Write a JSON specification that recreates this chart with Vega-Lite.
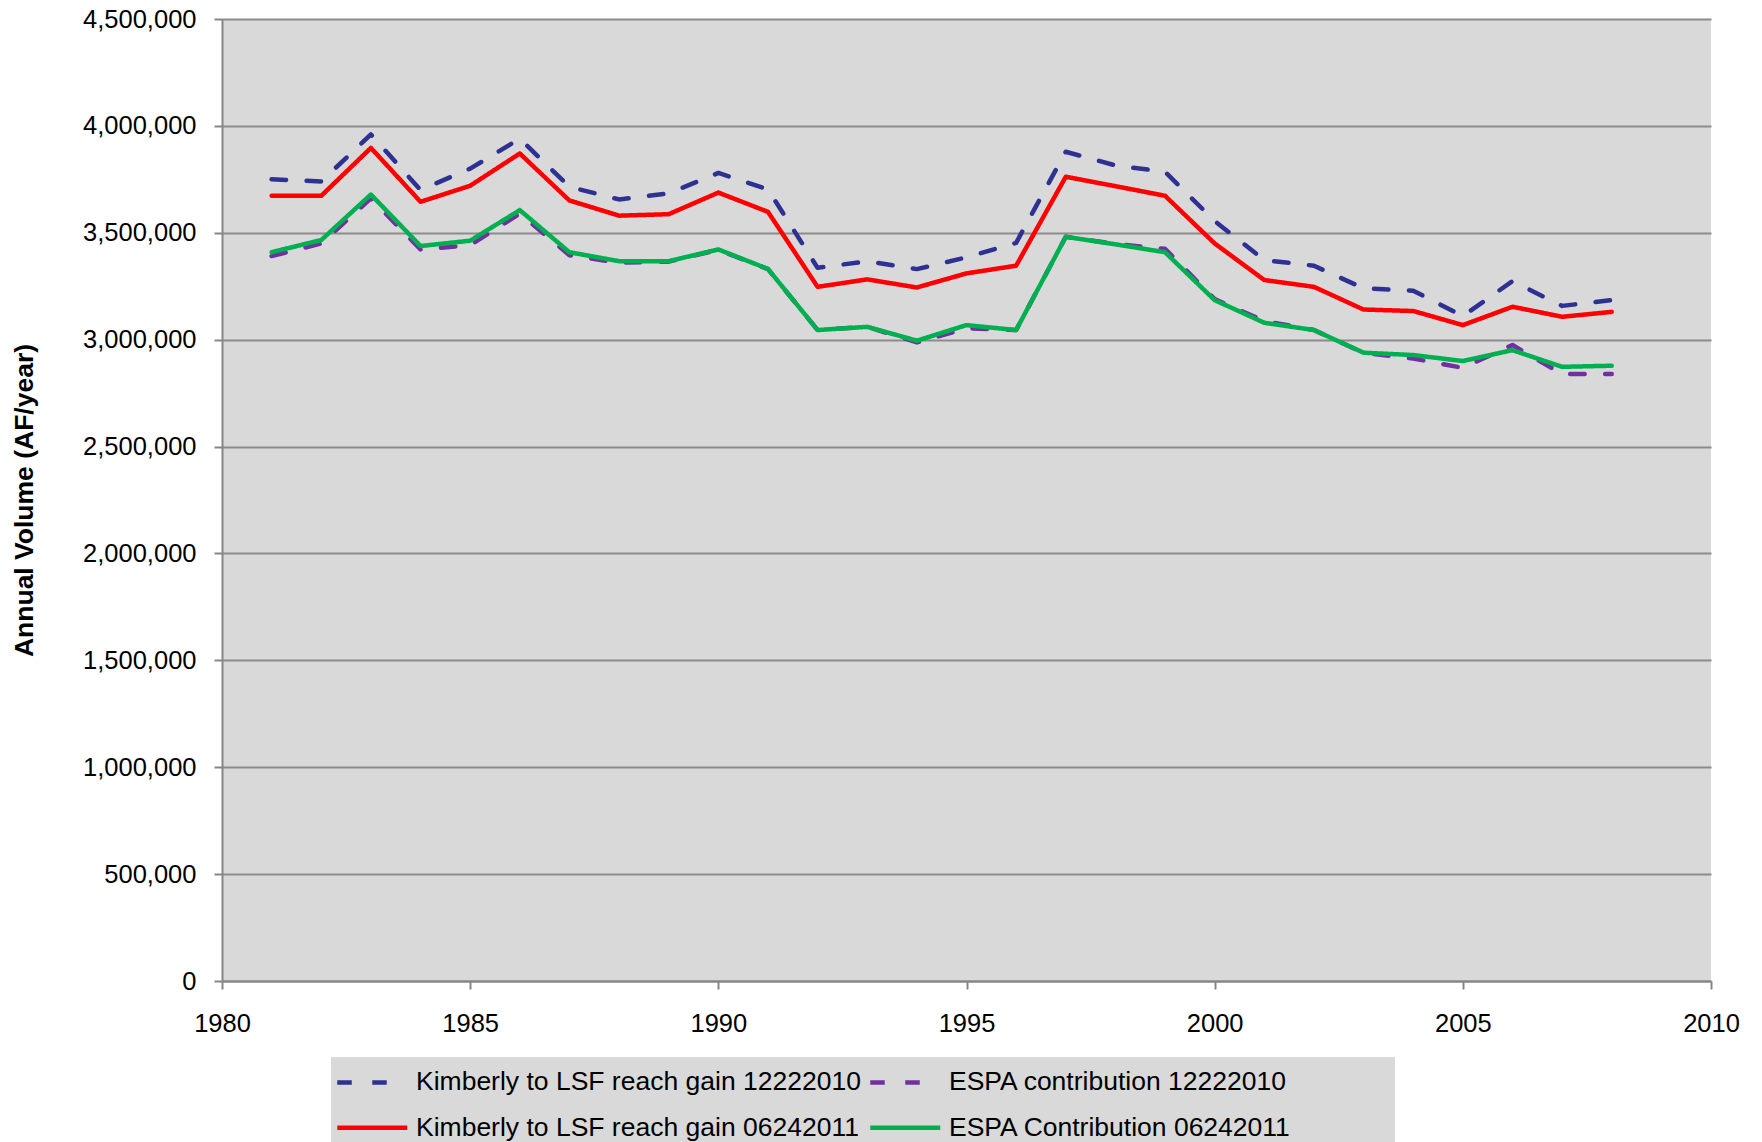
{
  "$schema": "https://vega.github.io/schema/vega-lite/v6.json",
  "width": 1489,
  "height": 962,
  "autosize": {"type": "none"},
  "padding": {"left": 222, "top": 19, "right": 51, "bottom": 161},
  "background": "white",
  "config": {"view": {"fill": "#D9D9D9", "stroke": null}, "font": "Liberation Sans"},
  "data": {"values": [
    {"s":"Kimberly to LSF reach gain 12222010","year":1981,"v":3750000},
    {"s":"Kimberly to LSF reach gain 12222010","year":1982,"v":3740000},
    {"s":"Kimberly to LSF reach gain 12222010","year":1983,"v":3960000},
    {"s":"Kimberly to LSF reach gain 12222010","year":1984,"v":3700000},
    {"s":"Kimberly to LSF reach gain 12222010","year":1985,"v":3800000},
    {"s":"Kimberly to LSF reach gain 12222010","year":1986,"v":3940000},
    {"s":"Kimberly to LSF reach gain 12222010","year":1987,"v":3715000},
    {"s":"Kimberly to LSF reach gain 12222010","year":1988,"v":3656000},
    {"s":"Kimberly to LSF reach gain 12222010","year":1989,"v":3684000},
    {"s":"Kimberly to LSF reach gain 12222010","year":1990,"v":3780000},
    {"s":"Kimberly to LSF reach gain 12222010","year":1991,"v":3703000},
    {"s":"Kimberly to LSF reach gain 12222010","year":1992,"v":3336000},
    {"s":"Kimberly to LSF reach gain 12222010","year":1993,"v":3367000},
    {"s":"Kimberly to LSF reach gain 12222010","year":1994,"v":3330000},
    {"s":"Kimberly to LSF reach gain 12222010","year":1995,"v":3385000},
    {"s":"Kimberly to LSF reach gain 12222010","year":1996,"v":3453000},
    {"s":"Kimberly to LSF reach gain 12222010","year":1997,"v":3879000},
    {"s":"Kimberly to LSF reach gain 12222010","year":1998,"v":3815000},
    {"s":"Kimberly to LSF reach gain 12222010","year":1999,"v":3785000},
    {"s":"Kimberly to LSF reach gain 12222010","year":2000,"v":3555000},
    {"s":"Kimberly to LSF reach gain 12222010","year":2001,"v":3372000},
    {"s":"Kimberly to LSF reach gain 12222010","year":2002,"v":3346000},
    {"s":"Kimberly to LSF reach gain 12222010","year":2003,"v":3240000},
    {"s":"Kimberly to LSF reach gain 12222010","year":2004,"v":3229000},
    {"s":"Kimberly to LSF reach gain 12222010","year":2005,"v":3110000},
    {"s":"Kimberly to LSF reach gain 12222010","year":2006,"v":3274000},
    {"s":"Kimberly to LSF reach gain 12222010","year":2007,"v":3158000},
    {"s":"Kimberly to LSF reach gain 12222010","year":2008,"v":3185000},
    {"s":"ESPA contribution 12222010","year":1981,"v":3391000},
    {"s":"ESPA contribution 12222010","year":1982,"v":3450000},
    {"s":"ESPA contribution 12222010","year":1983,"v":3661000},
    {"s":"ESPA contribution 12222010","year":1984,"v":3422000},
    {"s":"ESPA contribution 12222010","year":1985,"v":3442000},
    {"s":"ESPA contribution 12222010","year":1986,"v":3590000},
    {"s":"ESPA contribution 12222010","year":1987,"v":3395000},
    {"s":"ESPA contribution 12222010","year":1988,"v":3360000},
    {"s":"ESPA contribution 12222010","year":1989,"v":3365000},
    {"s":"ESPA contribution 12222010","year":1990,"v":3420000},
    {"s":"ESPA contribution 12222010","year":1991,"v":3330000},
    {"s":"ESPA contribution 12222010","year":1992,"v":3045000},
    {"s":"ESPA contribution 12222010","year":1993,"v":3060000},
    {"s":"ESPA contribution 12222010","year":1994,"v":2987000},
    {"s":"ESPA contribution 12222010","year":1995,"v":3053000},
    {"s":"ESPA contribution 12222010","year":1996,"v":3045000},
    {"s":"ESPA contribution 12222010","year":1997,"v":3481000},
    {"s":"ESPA contribution 12222010","year":1998,"v":3448000},
    {"s":"ESPA contribution 12222010","year":1999,"v":3425000},
    {"s":"ESPA contribution 12222010","year":2000,"v":3190000},
    {"s":"ESPA contribution 12222010","year":2001,"v":3087000},
    {"s":"ESPA contribution 12222010","year":2002,"v":3045000},
    {"s":"ESPA contribution 12222010","year":2003,"v":2938000},
    {"s":"ESPA contribution 12222010","year":2004,"v":2912000},
    {"s":"ESPA contribution 12222010","year":2005,"v":2868000},
    {"s":"ESPA contribution 12222010","year":2006,"v":2975000},
    {"s":"ESPA contribution 12222010","year":2007,"v":2839000},
    {"s":"ESPA contribution 12222010","year":2008,"v":2839000},
    {"s":"Kimberly to LSF reach gain 06242011","year":1981,"v":3673000},
    {"s":"Kimberly to LSF reach gain 06242011","year":1982,"v":3673000},
    {"s":"Kimberly to LSF reach gain 06242011","year":1983,"v":3897000},
    {"s":"Kimberly to LSF reach gain 06242011","year":1984,"v":3645000},
    {"s":"Kimberly to LSF reach gain 06242011","year":1985,"v":3720000},
    {"s":"Kimberly to LSF reach gain 06242011","year":1986,"v":3871000},
    {"s":"Kimberly to LSF reach gain 06242011","year":1987,"v":3651000},
    {"s":"Kimberly to LSF reach gain 06242011","year":1988,"v":3580000},
    {"s":"Kimberly to LSF reach gain 06242011","year":1989,"v":3587000},
    {"s":"Kimberly to LSF reach gain 06242011","year":1990,"v":3688000},
    {"s":"Kimberly to LSF reach gain 06242011","year":1991,"v":3598000},
    {"s":"Kimberly to LSF reach gain 06242011","year":1992,"v":3247000},
    {"s":"Kimberly to LSF reach gain 06242011","year":1993,"v":3282000},
    {"s":"Kimberly to LSF reach gain 06242011","year":1994,"v":3244000},
    {"s":"Kimberly to LSF reach gain 06242011","year":1995,"v":3310000},
    {"s":"Kimberly to LSF reach gain 06242011","year":1996,"v":3346000},
    {"s":"Kimberly to LSF reach gain 06242011","year":1997,"v":3762000},
    {"s":"Kimberly to LSF reach gain 06242011","year":1998,"v":3718000},
    {"s":"Kimberly to LSF reach gain 06242011","year":1999,"v":3673000},
    {"s":"Kimberly to LSF reach gain 06242011","year":2000,"v":3450000},
    {"s":"Kimberly to LSF reach gain 06242011","year":2001,"v":3279000},
    {"s":"Kimberly to LSF reach gain 06242011","year":2002,"v":3247000},
    {"s":"Kimberly to LSF reach gain 06242011","year":2003,"v":3141000},
    {"s":"Kimberly to LSF reach gain 06242011","year":2004,"v":3134000},
    {"s":"Kimberly to LSF reach gain 06242011","year":2005,"v":3068000},
    {"s":"Kimberly to LSF reach gain 06242011","year":2006,"v":3154000},
    {"s":"Kimberly to LSF reach gain 06242011","year":2007,"v":3107000},
    {"s":"Kimberly to LSF reach gain 06242011","year":2008,"v":3130000},
    {"s":"ESPA Contribution 06242011","year":1981,"v":3409000},
    {"s":"ESPA Contribution 06242011","year":1982,"v":3466000},
    {"s":"ESPA Contribution 06242011","year":1983,"v":3679000},
    {"s":"ESPA Contribution 06242011","year":1984,"v":3438000},
    {"s":"ESPA Contribution 06242011","year":1985,"v":3463000},
    {"s":"ESPA Contribution 06242011","year":1986,"v":3606000},
    {"s":"ESPA Contribution 06242011","year":1987,"v":3409000},
    {"s":"ESPA Contribution 06242011","year":1988,"v":3367000},
    {"s":"ESPA Contribution 06242011","year":1989,"v":3367000},
    {"s":"ESPA Contribution 06242011","year":1990,"v":3422000},
    {"s":"ESPA Contribution 06242011","year":1991,"v":3331000},
    {"s":"ESPA Contribution 06242011","year":1992,"v":3045000},
    {"s":"ESPA Contribution 06242011","year":1993,"v":3060000},
    {"s":"ESPA Contribution 06242011","year":1994,"v":2995000},
    {"s":"ESPA Contribution 06242011","year":1995,"v":3068000},
    {"s":"ESPA Contribution 06242011","year":1996,"v":3045000},
    {"s":"ESPA Contribution 06242011","year":1997,"v":3481000},
    {"s":"ESPA Contribution 06242011","year":1998,"v":3446000},
    {"s":"ESPA Contribution 06242011","year":1999,"v":3409000},
    {"s":"ESPA Contribution 06242011","year":2000,"v":3185000},
    {"s":"ESPA Contribution 06242011","year":2001,"v":3079000},
    {"s":"ESPA Contribution 06242011","year":2002,"v":3045000},
    {"s":"ESPA Contribution 06242011","year":2003,"v":2939000},
    {"s":"ESPA Contribution 06242011","year":2004,"v":2928000},
    {"s":"ESPA Contribution 06242011","year":2005,"v":2900000},
    {"s":"ESPA Contribution 06242011","year":2006,"v":2951000},
    {"s":"ESPA Contribution 06242011","year":2007,"v":2873000},
    {"s":"ESPA Contribution 06242011","year":2008,"v":2878000}
  ]},
  "mark": {"type": "line", "strokeWidth": 4.5, "strokeCap": "round", "strokeJoin": "round"},
  "encoding": {
    "x": {
      "field": "year", "type": "quantitative",
      "scale": {"domain": [1980, 2010], "nice": false, "zero": false},
      "axis": {
        "values": [1980, 1985, 1990, 1995, 2000, 2005, 2010], "format": "d", "grid": false, "title": null,
        "labelFlush": false,
        "domainColor": "#868686", "domainWidth": 2, "tickColor": "#868686", "tickWidth": 2, "tickSize": 8,
        "labelFontSize": 25.5, "labelColor": "#000000", "labelPadding": 22, "labelFont": "Liberation Sans"
      }
    },
    "y": {
      "field": "v", "type": "quantitative",
      "scale": {"domain": [0, 4500000], "nice": false},
      "axis": {
        "values": [0, 500000, 1000000, 1500000, 2000000, 2500000, 3000000, 3500000, 4000000, 4500000],
        "format": ",.0f", "grid": true, "gridColor": "#8C8C8C", "gridWidth": 2, "gridOpacity": 1,
        "domainColor": "#868686", "domainWidth": 2, "tickColor": "#868686", "tickWidth": 2, "tickSize": 8,
        "labelFontSize": 25.5, "labelColor": "#000000", "labelPadding": 18, "labelFont": "Liberation Sans",
        "title": "Annual Volume (AF/year)", "titleFontSize": 26.5, "titleFontWeight": "bold", "titleColor": "#000000",
        "titleFont": "Liberation Sans", "titleX": -198, "titleY": 481, "titleAngle": -90,
        "titleBaseline": "middle", "titleAlign": "center"
      }
    },
    "color": {
      "field": "s", "type": "nominal",
      "scale": {
        "domain": ["Kimberly to LSF reach gain 12222010", "ESPA contribution 12222010", "Kimberly to LSF reach gain 06242011", "ESPA Contribution 06242011"],
        "range": ["#2E3192", "#7030A0", "#FF0000", "#00B050"]
      },
      "legend": {
        "title": " ", "titleFontSize": 1, "titlePadding": 4, "orient": "none", "legendX": 109, "legendY": 1038, "direction": "horizontal", "columns": 2,
        "gridAlign": "all", "fillColor": "#D9D9D9", "padding": 7, "symbolType": "M-2,0L8,0", "symbolSize": 196,
        "symbolStrokeWidth": 4.5, "labelFontSize": 26.5, "labelFont": "Liberation Sans", "labelColor": "#000000",
        "labelOffset": 51.5, "columnPadding": 0, "rowPadding": 18.5, "labelLimit": 1000,
        "labelExpr": "indexof(datum.label, 'ESPA') == 0 ? datum.label + '\u00a0\u00a0\u00a0\u00a0\u00a0\u00a0\u00a0\u00a0\u00a0\u00a0\u00a0\u00a0\u00a0\u200b' : datum.label"
      }
    },
    "strokeDash": {
      "field": "s", "type": "nominal",
      "scale": {
        "domain": ["Kimberly to LSF reach gain 12222010", "ESPA contribution 12222010", "Kimberly to LSF reach gain 06242011", "ESPA Contribution 06242011"],
        "range": [[14.5, 20.5], [14.5, 20.5], [1, 0], [1, 0]]
      },
      "legend": {
        "title": " ", "titleFontSize": 1, "titlePadding": 4, "orient": "none", "legendX": 109, "legendY": 1038, "direction": "horizontal", "columns": 2,
        "gridAlign": "all", "fillColor": "#D9D9D9", "padding": 7, "symbolType": "M-2,0L8,0", "symbolSize": 196,
        "symbolStrokeWidth": 4.5, "labelFontSize": 26.5, "labelFont": "Liberation Sans", "labelColor": "#000000",
        "labelOffset": 51.5, "columnPadding": 0, "rowPadding": 18.5, "labelLimit": 1000,
        "labelExpr": "indexof(datum.label, 'ESPA') == 0 ? datum.label + '\u00a0\u00a0\u00a0\u00a0\u00a0\u00a0\u00a0\u00a0\u00a0\u00a0\u00a0\u00a0\u00a0\u200b' : datum.label"
      }
    }
  }
}
